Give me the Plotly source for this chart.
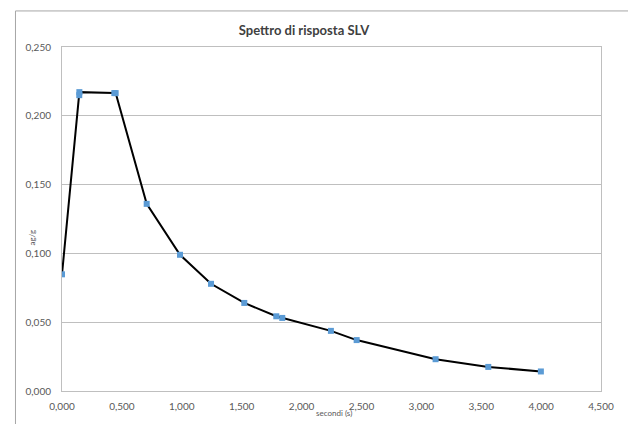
import plotly.graph_objects as go

# Periodo T (s) e accelerazione spettrale Sa (ag/g) dello spettro SLV
periodo = [0.000, 0.144, 0.145, 0.437, 0.448, 0.707, 0.985, 1.244, 1.522,
           1.789, 1.839, 2.245, 2.460, 3.119, 3.559, 3.998]
accelerazione = [0.0848, 0.2150, 0.2172, 0.2165, 0.2165, 0.1360, 0.0990, 0.0779,
                 0.0640, 0.0543, 0.0531, 0.0437, 0.0370, 0.0231, 0.0175, 0.0142]

titolo = "Spettro di risposta SLV"
titolo_x = "secondi (s)"
titolo_y = "ag/g"

FONT = "Lato, 'Open Sans', sans-serif"
GRIGIO_TESTO = "#595959"
GRIGIO_GRIGLIA = "#BFBFBF"

fig = go.Figure()
fig.add_trace(go.Scatter(
    x=periodo, y=accelerazione,
    mode="lines+markers",
    line=dict(color="#000000", width=2),
    marker=dict(symbol="square", size=6, color="#5B9BD5"),
    showlegend=False,
))

fig.update_layout(
    width=628, height=424,
    margin=dict(l=62, r=27, t=47, b=24),
    paper_bgcolor="white", plot_bgcolor="white",
    separators=",.",
    font=dict(family=FONT, size=10, color=GRIGIO_TESTO),
    title=dict(
        text="<b>" + titolo + "</b>",
        font=dict(family=FONT, size=13, color="#404040"),
        xref="paper", x=0.449, xanchor="center",
        yref="container", y=0.929, yanchor="middle",
    ),
    xaxis=dict(
        range=[0, 4.5], dtick=0.5, tick0=0, tickformat=".3f",
        showgrid=False, zeroline=False,
        showline=True, linecolor=GRIGIO_GRIGLIA, linewidth=1, mirror=True,
        ticks="", ticklabelstandoff=6,
        tickfont=dict(size=10, color=GRIGIO_TESTO),
    ),
    yaxis=dict(
        range=[0, 0.25], dtick=0.05, tick0=0, tickformat=".3f",
        showgrid=True, gridcolor=GRIGIO_GRIGLIA, gridwidth=1, zeroline=False,
        showline=True, linecolor=GRIGIO_GRIGLIA, linewidth=1, mirror=True,
        ticks="", ticklabelstandoff=8,
        tickfont=dict(size=10, color=GRIGIO_TESTO),
    ),
    annotations=[
        dict(text=titolo_x, xref="paper", yref="paper", x=0.5046, y=-0.063,
             xanchor="center", yanchor="middle", showarrow=False,
             font=dict(family=FONT, size=8, color=GRIGIO_TESTO)),
        dict(text=titolo_y, xref="paper", yref="paper", x=-0.0565, y=0.445,
             xanchor="center", yanchor="middle", showarrow=False, textangle=-90,
             font=dict(family=FONT, size=8, color=GRIGIO_TESTO)),
    ],
    shapes=[
        # cornice dell'area del grafico
        dict(type="rect", xref="paper", yref="paper",
             x0=-0.0863, x1=1.08, y0=-0.12, y1=1.1048,
             line=dict(color="#A6A6A6", width=1), fillcolor="rgba(0,0,0,0)",
             layer="below"),
    ],
)

fig.write_html("out.html")
